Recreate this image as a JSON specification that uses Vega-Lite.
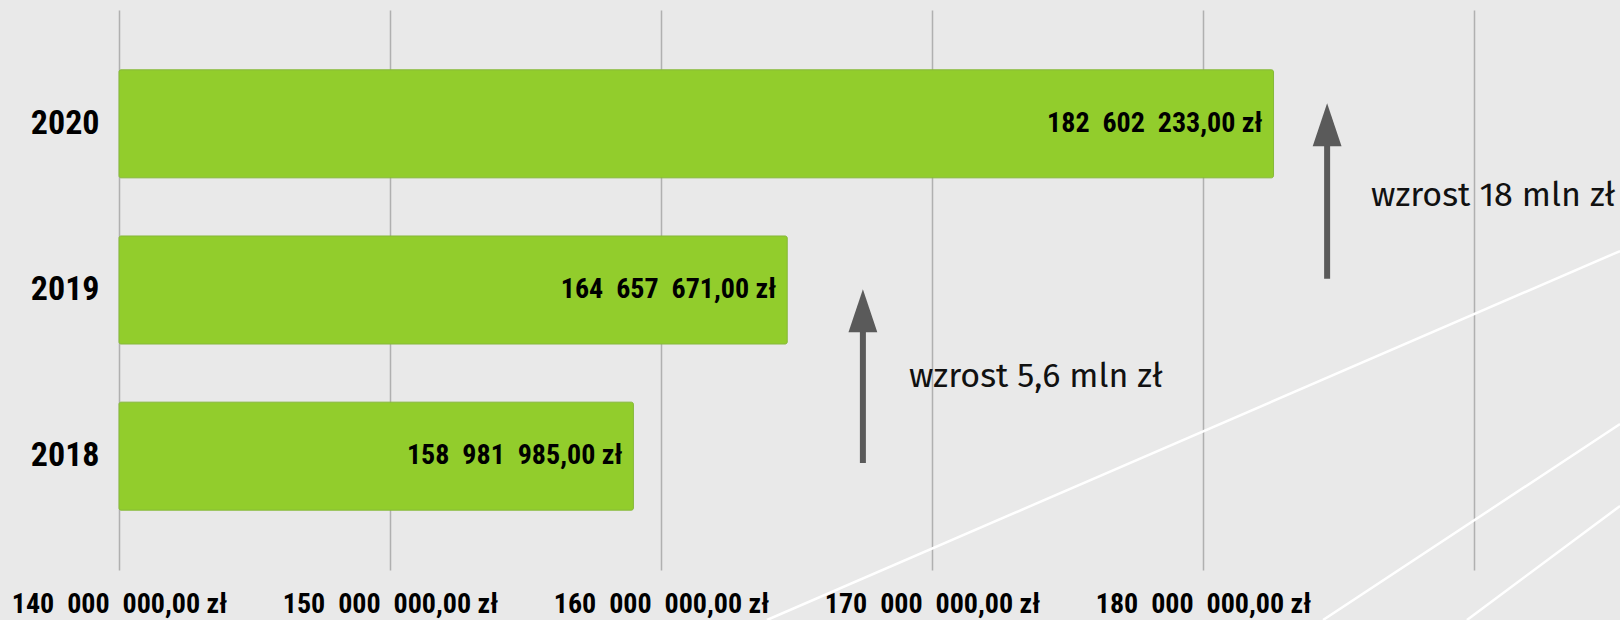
{
  "$schema": "https://vega.github.io/schema/vega-lite/v6.json",
  "autosize": {"type": "none"},
  "width": 1355,
  "height": 560,
  "padding": {"left": 119, "top": 10, "right": 146, "bottom": 50},
  "background": "#e9e9e9",
  "config": {
    "view": {"stroke": null},
    "locale": {"number": {"decimal": ",", "thousands": "\u00a0\u00a0", "grouping": [3], "currency": ["", " zł"]}}
  },
  "datasets": {
    "budget": [
      {"year": "2020", "value": 182602233},
      {"year": "2019", "value": 164657671},
      {"year": "2018", "value": 158981985}
    ],
    "arrows": [
      {"x": 184580000, "bottom": 52.0, "head": 79.5},
      {"x": 167450000, "bottom": 19.1, "head": 46.3}
    ],
    "notes": [
      {"x": 186200000, "y": 66.8, "label": "wzrost 18 mln zł"},
      {"x": 169150000, "y": 34.5, "label": "wzrost 5,6 mln zł"}
    ],
    "stripes": [
      {"x": 163910000, "y": -8.93, "x2": 195390000, "y2": 56.96},
      {"x": 184430000, "y": -8.93, "x2": 195390000, "y2": 26.07},
      {"x": 189740000, "y": -8.93, "x2": 195390000, "y2": 11.43}
    ]
  },
  "layer": [
    {
      "data": {"name": "stripes"},
      "mark": {"type": "rule", "color": "#ffffff", "strokeWidth": 2.5, "clip": false},
      "encoding": {
        "x": {"field": "x", "type": "quantitative", "scale": {"domain": [140000000, 190000000], "nice": false, "zero": false}},
        "x2": {"field": "x2"},
        "y": {"field": "y", "type": "quantitative", "scale": {"domain": [0, 100], "nice": false, "zero": false}, "axis": null},
        "y2": {"field": "y2"}
      }
    },
    {
      "data": {"name": "budget"},
      "encoding": {
        "y": {
          "field": "year", "type": "nominal", "sort": "descending",
          "scale": {"paddingInner": 0.35, "paddingOuter": 0.36},
          "axis": {"title": null, "ticks": false, "domain": false, "labelFontSize": 34, "labelFontWeight": "bold",
                   "labelFont": "Roboto Condensed", "labelColor": "#000000", "labelPadding": 20}
        },
        "x": {
          "field": "value", "type": "quantitative",
          "scale": {"domain": [140000000, 190000000], "nice": false, "zero": false},
          "axis": {"title": null, "values": [140000000, 150000000, 160000000, 170000000, 180000000, 190000000],
                   "format": "$,.2f", "labelExpr": "datum.value >= 190000000 ? '' : datum.label",
                   "ticks": false, "domain": false, "grid": true, "gridColor": "#b0b0b0", "gridWidth": 1.5,
                   "labelFontSize": 28, "labelFontWeight": "bold", "labelFont": "Roboto Condensed",
                   "labelColor": "#000000", "labelPadding": 20, "labelFlush": false, "labelOverlap": false, "labelLimit": 400}
        }
      },
      "layer": [
        {"mark": {"type": "bar", "color": "#92cd2c", "stroke": "#86b83a", "strokeWidth": 1, "cornerRadius": 2},
         "encoding": {"x2": {"datum": 140000000}}},
        {"mark": {"type": "text", "align": "right", "baseline": "middle", "dx": -11, "fontSize": 28, "fontWeight": "bold",
                  "font": "Roboto Condensed", "color": "#000000"},
         "encoding": {"text": {"field": "value", "type": "quantitative", "format": "$,.2f"}}}
      ]
    },
    {
      "layer": [
        {
          "data": {"name": "arrows"},
          "mark": {"type": "rule", "color": "#5a5a5a", "strokeWidth": 6},
          "encoding": {
            "x": {"field": "x", "type": "quantitative"},
            "y": {"field": "bottom", "type": "quantitative", "scale": {"domain": [0, 100], "nice": false}, "axis": null},
            "y2": {"field": "head"}
          }
        },
        {
          "data": {"name": "arrows"},
          "mark": {"type": "point", "shape": "M0,-1L0.67,1L-0.67,1Z", "filled": true, "color": "#5a5a5a", "opacity": 1, "size": 1850},
          "encoding": {
            "x": {"field": "x", "type": "quantitative"},
            "y": {"field": "head", "type": "quantitative", "scale": {"domain": [0, 100], "nice": false}, "axis": null}
          }
        },
        {
          "data": {"name": "notes"},
          "mark": {"type": "text", "align": "left", "baseline": "middle", "fontSize": 34, "font": "Fira Sans", "fontWeight": 400, "color": "#111111"},
          "encoding": {
            "x": {"field": "x", "type": "quantitative"},
            "y": {"field": "y", "type": "quantitative", "scale": {"domain": [0, 100], "nice": false}, "axis": null},
            "text": {"field": "label"}
          }
        }
      ]
    }
  ],
  "resolve": {"scale": {"y": "independent"}}
}
